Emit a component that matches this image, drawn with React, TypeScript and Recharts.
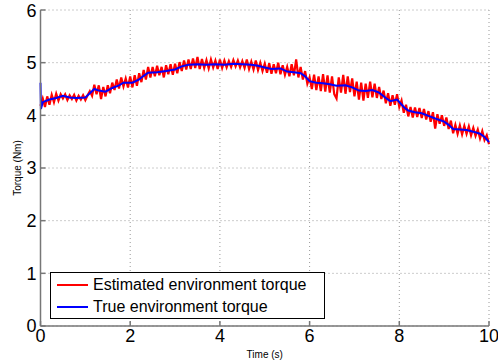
import React from "react"
import { LineChart, Line, XAxis, YAxis, CartesianGrid, Label } from "recharts"

// estimated torque, sampled every 0.05 s from 0 to 10 s
const sampleStep = 0.05
const estimatedTorque = [
  4.18, 4.32, 4.16, 4.36, 4.2, 4.39, 4.25, 4.41, 4.28, 4.4,
  4.32, 4.4, 4.29, 4.38, 4.31, 4.39, 4.28, 4.37, 4.3, 4.38,
  4.29, 4.38, 4.46, 4.37, 4.58, 4.4, 4.57, 4.31, 4.54, 4.36,
  4.57, 4.42, 4.62, 4.48, 4.68, 4.51, 4.72, 4.55, 4.7, 4.53,
  4.74, 4.53, 4.76, 4.56, 4.8, 4.63, 4.86, 4.68, 4.92, 4.72,
  4.92, 4.74, 4.94, 4.76, 4.92, 4.72, 4.95, 4.78, 4.97, 4.77,
  4.98, 4.8, 5.01, 4.84, 5.04, 4.87, 5.06, 4.88, 5.08, 4.9,
  5.11, 4.88, 5.07, 4.9, 5.05, 4.89, 5.06, 4.91, 5.04, 4.88,
  5.06, 4.9, 5.04, 4.91, 5.03, 4.92, 5.05, 4.93, 5.04, 4.91,
  5.03, 4.9, 5.06, 4.88, 5.02, 4.87, 5.04, 4.86, 5.0, 4.84,
  4.98, 4.81, 4.99, 4.79, 4.97, 4.8, 5.0, 4.78, 4.95, 4.77,
  4.92, 4.74, 4.97, 4.76, 5.06, 4.72, 4.92, 4.68, 4.84, 4.6,
  4.72, 4.5, 4.77, 4.48, 4.74, 4.46, 4.78, 4.45, 4.76, 4.43,
  4.74, 4.4, 4.32, 4.72, 4.43, 4.77, 4.41, 4.74, 4.44, 4.7,
  4.36, 4.64, 4.3, 4.62, 4.28, 4.6, 4.33, 4.64, 4.34, 4.6,
  4.33, 4.54, 4.31, 4.47, 4.23, 4.42, 4.18, 4.38, 4.2, 4.4,
  4.16, 4.28, 4.05, 4.2, 3.98, 4.16, 3.96, 4.15, 3.97, 4.14,
  3.95, 4.12, 3.92, 4.08, 3.88, 4.06, 3.75, 4.02, 3.84, 4.0,
  3.8, 3.96, 3.74, 3.9, 3.66, 3.82, 3.65, 3.81, 3.64, 3.8,
  3.65, 3.79, 3.62, 3.76, 3.61, 3.73, 3.56, 3.7, 3.53, 3.62,
  3.45,
]

// true torque
const trueTime = [
  0, 0.01, 0.05, 0.2, 0.35, 0.5, 0.65, 0.8, 1.0, 1.1, 1.2, 1.3, 1.45, 1.6, 1.75, 1.85,
  2.05, 2.2, 2.3, 2.4, 2.6, 2.8, 3.0, 3.15, 3.3, 3.5, 3.7, 3.9, 4.1, 4.3, 4.5, 4.7,
  4.85, 5.0, 5.15, 5.35, 5.5, 5.65, 5.8, 5.9, 6.0, 6.15, 6.3, 6.45, 6.6, 6.8, 6.95,
  7.1, 7.25, 7.4, 7.55, 7.7, 7.8, 7.95, 8.1, 8.2, 8.35, 8.5, 8.65, 8.8, 9.0, 9.1,
  9.2, 9.35, 9.5, 9.65, 9.8, 9.9, 10,
]
const trueTorque = [
  4.62, 4.12, 4.25, 4.3, 4.33, 4.37, 4.34, 4.33, 4.34, 4.42, 4.5, 4.47, 4.45, 4.52, 4.57, 4.62,
  4.62, 4.68, 4.75, 4.81, 4.82, 4.84, 4.87, 4.93, 4.96, 4.97, 4.96, 4.97, 4.96, 4.98, 4.97, 4.96,
  4.94, 4.91, 4.88, 4.89, 4.83, 4.82, 4.8, 4.74, 4.65, 4.62, 4.61, 4.59, 4.56, 4.57, 4.53,
  4.47, 4.46, 4.48, 4.43, 4.33, 4.27, 4.3, 4.16, 4.09, 4.06, 4.04, 3.99, 3.94, 3.88, 3.82,
  3.74, 3.73, 3.72, 3.69, 3.65, 3.59, 3.49,
]

const xTicks = [0, 2, 4, 6, 8, 10]
const yTicks = [0, 1, 2, 3, 4, 5, 6]

const estimatedData = estimatedTorque.map((v, i) => ({ t: +(i * sampleStep).toFixed(2), v }))
const trueData = trueTime.map((t, i) => ({ t, v: trueTorque[i] }))

const axisColor = "#777"
const tickFont = { fontSize: 18, fill: "#000" }

function LegendBox() {
  const row = (color: string, text: string) => (
    <div style={{ display: "flex", alignItems: "center", height: 22 }}>
      <div style={{ width: 31, height: 2, background: color, marginLeft: 6, marginRight: 5 }} />
      <span style={{ fontSize: 16, color: "#000", whiteSpace: "nowrap" }}>{text}</span>
    </div>
  )
  return (
    <div
      style={{
        position: "absolute",
        left: 50,
        top: 272,
        border: "1px solid #000",
        background: "#fff",
        width: 275,
        height: 47,
        paddingTop: 1,
        boxSizing: "border-box",
      }}
    >
      {row("#ff0000", "Estimated environment torque")}
      {row("#0000ff", "True environment torque")}
    </div>
  )
}

export default function App() {
  return (
    <div style={{ position: "absolute", left: 0, top: 0, width: 498, height: 362, background: "#fff", fontFamily: "'Liberation Sans', Arial, sans-serif" }}>
      <LineChart width={498} height={362} margin={{ top: 10, right: 9, bottom: 0, left: 0 }}>
        <CartesianGrid stroke="#999" strokeDasharray="1 3" />
        <XAxis
          dataKey="t"
          type="number"
          domain={[0, 10]}
          ticks={xTicks}
          height={36}
          stroke={axisColor}
          strokeWidth={1.5}
          tickSize={-5}
          tickMargin={8}
          tick={tickFont}
          allowDuplicatedCategory={false}
        >
          <Label value="Time (s)" position="insideBottom" offset={4} style={{ fontSize: 10, fill: "#000" }} />
        </XAxis>
        <XAxis
          xAxisId="top"
          orientation="top"
          type="number"
          domain={[0, 10]}
          ticks={xTicks}
          height={0}
          stroke={axisColor}
          strokeWidth={1.5}
          tickSize={-5}
          tick={false}
        />
        <YAxis
          type="number"
          domain={[0, 6]}
          ticks={yTicks}
          width={40.5}
          stroke={axisColor}
          strokeWidth={1.5}
          tickSize={-5}
          tickMargin={9}
          tick={tickFont}
        >
          <Label value="Torque (Nm)" angle={-90} position="insideLeft" offset={17} style={{ fontSize: 10, fill: "#000", textAnchor: "middle" }} />
        </YAxis>
        <YAxis
          yAxisId="right"
          orientation="right"
          type="number"
          domain={[0, 6]}
          ticks={yTicks}
          width={0}
          stroke={axisColor}
          strokeWidth={1.5}
          tickSize={-5}
          tick={false}
        />
        <Line
          data={estimatedData}
          dataKey="v"
          name="Estimated environment torque"
          stroke="#ff0000"
          strokeWidth={2.2}
          dot={false}
          isAnimationActive={false}
        />
        <Line
          data={trueData}
          dataKey="v"
          name="True environment torque"
          stroke="#0000ff"
          strokeWidth={2}
          dot={false}
          isAnimationActive={false}
        />
      </LineChart>
      <LegendBox />
    </div>
  )
}
